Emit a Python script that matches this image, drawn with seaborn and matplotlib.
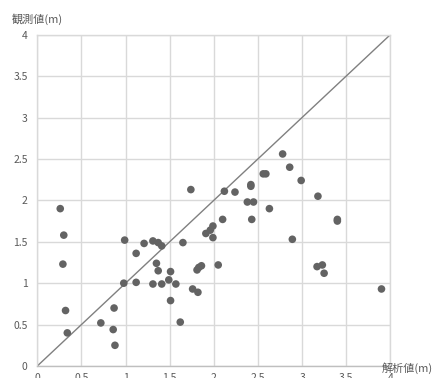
import numpy as np
import pandas as pd
import matplotlib
matplotlib.use("Agg")
import matplotlib.pyplot as plt
import seaborn as sns

# analysed value (x) vs observed value (y), in metres
analysed = [0.26, 0.30, 0.29, 0.32, 0.34, 0.72, 0.86, 0.87, 0.88, 0.98,
            0.99, 1.12, 1.12, 1.21, 1.31, 1.31, 1.35, 1.37, 1.37, 1.41,
            1.41, 1.49, 1.51, 1.51, 1.57, 1.62, 1.65, 1.74, 1.76, 1.82,
            1.81, 1.83, 1.86, 1.91, 1.96, 1.99, 1.99, 2.05, 2.10, 2.12,
            2.24, 2.38, 2.43, 2.42, 2.42, 2.45, 2.56, 2.59, 2.63, 2.78,
            2.86, 2.89, 2.99, 3.17, 3.18, 3.23, 3.25, 3.40, 3.40, 3.90]
observed = [1.90, 1.58, 1.23, 0.67, 0.40, 0.52, 0.44, 0.70, 0.25, 1.00,
            1.52, 1.36, 1.01, 1.48, 1.51, 0.99, 1.24, 1.49, 1.15, 1.45,
            0.99, 1.04, 1.14, 0.79, 0.99, 0.53, 1.49, 2.13, 0.93, 0.89,
            1.16, 1.19, 1.21, 1.60, 1.64, 1.69, 1.55, 1.22, 1.77, 2.11,
            2.10, 1.98, 1.77, 2.19, 2.17, 1.98, 2.32, 2.32, 1.90, 2.56,
            2.40, 1.53, 2.24, 1.20, 2.05, 1.22, 1.12, 1.77, 1.75, 0.93]
ticks = [0, 0.5, 1, 1.5, 2, 2.5, 3, 3.5, 4]
tick_labels = ["0", "0.5", "1", "1.5", "2", "2.5", "3", "3.5", "4"]
x_label = "解析値(m)"
y_label = "観測値(m)"

df = pd.DataFrame({"analysed": analysed, "observed": observed})

sns.set_style("white")
plt.rcParams["font.family"] = ["Noto Sans CJK JP", "DejaVu Sans"]

fig = plt.figure(figsize=(4.34, 3.78), dpi=100)
ax = fig.add_axes([37.3 / 434, 12 / 378, 353 / 434, 331.3 / 378])

grid_col = "#d9d9d9"
text_col = "#595959"

# 1:1 line
ax.plot([ticks[0], ticks[-1]], [ticks[0], ticks[-1]], color="#808080", lw=1.0, zorder=2)

sns.scatterplot(data=df, x="analysed", y="observed", ax=ax, color="#636363",
                s=30, edgecolor="none", zorder=3)

ax.set_xlim(0, 4)
ax.set_ylim(0, 4)
ax.set_xticks(ticks)
ax.set_yticks(ticks)
ax.set_xticklabels(tick_labels)
ax.set_yticklabels(tick_labels)
ax.grid(True, color=grid_col, lw=1.0)
ax.set_axisbelow(True)
for sp in ax.spines.values():
    sp.set_color(grid_col)
    sp.set_linewidth(1.0)
ax.spines["bottom"].set_color("#bfbfbf")
ax.tick_params(axis="both", length=0, labelsize=7.5, colors=text_col)
ax.tick_params(axis="y", pad=7)
ax.tick_params(axis="x", pad=5)
ax.set_xlabel("")
ax.set_ylabel("")

fig.text(12 / 434, 1 - 19 / 378, y_label, fontsize=8, color=text_col,
         ha="left", va="center")
fig.text(433 / 434, 1 - 368 / 378, x_label, fontsize=8, color=text_col,
         ha="right", va="center")

fig.savefig("out.png", dpi=100)
